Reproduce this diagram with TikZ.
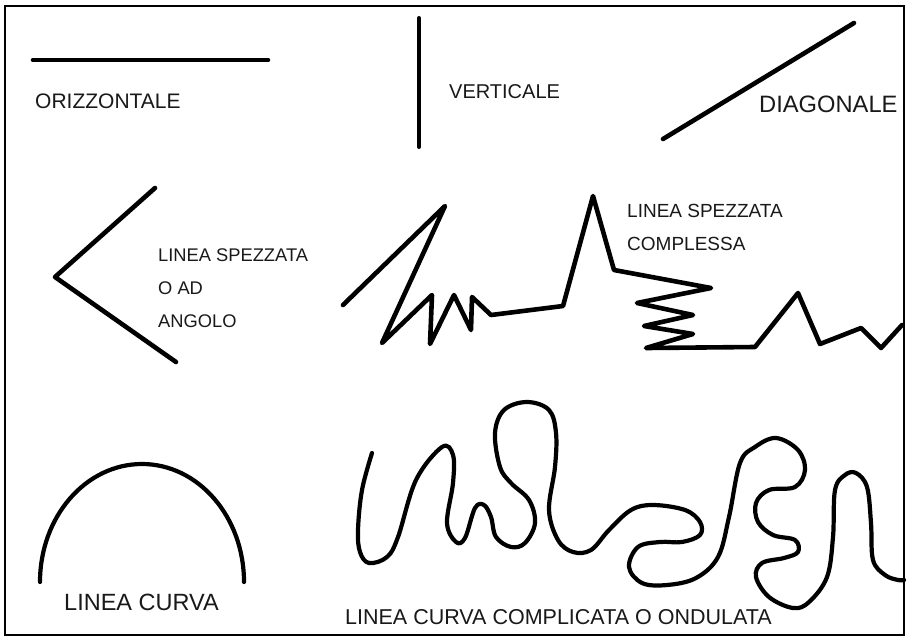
\documentclass[tikz,border=0pt]{standalone}
\usepackage{fontspec}
\setmainfont{Liberation Sans}
\begin{document}
\begin{tikzpicture}[x=1pt,y=-1pt,
  stroke/.style={line width=4.6pt,line cap=round,line join=round},
  curvestroke/.style={line width=4.2pt,line cap=round,line join=round},
  lbl/.style={anchor=base west,inner sep=0pt,text=black!90}]
\useasboundingbox (0,0) rectangle (907,637);
\fill[white] (0,0) rectangle (907,637);
\draw[line width=2.6pt] (5,6) rectangle (904,635);
% horizontal
\draw[stroke] (33,60) -- (268,60);
\node[lbl,font=\fontsize{21}{25}\selectfont] (orizz) at (35,108) {ORIZZONTALE};
% vertical
\draw[line width=4pt,line cap=round] (419,18) -- (419,147);
\node[lbl,font=\fontsize{20}{24}\selectfont] (vert) at (449,98) {VERTICALE};
% diagonal
\draw[stroke] (663,139) -- (854,23);
\node[lbl,font=\fontsize{23.7}{28}\selectfont] (diag) at (759,112) {DIAGONALE};
% angle
\draw[stroke] (155,188) -- (55,277) -- (176,362);
\node[lbl,font=\fontsize{18.3}{22}\selectfont] (ang1) at (158,261) {LINEA SPEZZATA};
\node[lbl,font=\fontsize{18.3}{22}\selectfont] (ang2) at (158,294) {O AD};
\node[lbl,font=\fontsize{18.3}{22}\selectfont] (ang3) at (158,327) {ANGOLO};
% complex broken line
\draw[stroke] (343,305) -- (445,206) -- (382,343) -- (432,295) -- (430,344)
  -- (454,295) -- (471,330) -- (472,297) -- (491,315) -- (563,306)
  -- (593,196) -- (614,270) -- (711,288) -- (637,303) -- (693,315)
  -- (644,326) -- (693,334) -- (646,348) -- (755,347) -- (798,293)
  -- (820,344) -- (861,328) -- (881,348) -- (902,325);
\node[lbl,font=\fontsize{19}{23}\selectfont] (comp1) at (627,217) {LINEA SPEZZATA};
\node[lbl,font=\fontsize{19}{23}\selectfont] (comp2) at (627,250) {COMPLESSA};
% arc
\draw[line width=4.2pt,line cap=round] (40,582) arc[start angle=180,end angle=360,x radius=102,y radius=118];
\node[lbl,font=\fontsize{23.5}{28}\selectfont] (curva) at (64,610) {LINEA CURVA};
% wavy line
\draw[curvestroke] plot[smooth,tension=0.6] coordinates {
 (372,453) (362,490) (358,530) (360,552) (369,563) (387,557) (398,537)
 (416,480) (442,447) (453,455) (453,483) (447,523) (456,542) (465,538)
 (475,508) (484,505) (491,517) (496,537) (511,547) (525,543) (535,523)
 (529,500) (511,483) (500,467) (495,433) (504,410) (527,402) (549,410)
 (556,433) (555,467) (549,510) (558,540) (573,552) (591,550) (609,530)
 (631,510) (653,505) (685,510) (700,522) (700,535) (682,542) (660,542)
 (638,547) (629,567) (642,583) (667,585) (696,578) (718,557) (729,517)
 (740,463) (755,447) (776,438) (798,450) (805,470) (795,487) (769,490)
 (756,503) (758,522) (773,535) (795,540) (798,552) (784,558) (762,563)
 (756,577) (769,597) (793,608) (809,602) (827,577) (833,537) (835,490)
 (845,475) (856,473) (867,487) (871,523) (873,560) (885,575) (898,580) (904,580)};
\node[lbl,font=\fontsize{21.5}{26}\selectfont] (ond) at (345,624) {LINEA CURVA COMPLICATA O ONDULATA};
\end{tikzpicture}
\end{document}
